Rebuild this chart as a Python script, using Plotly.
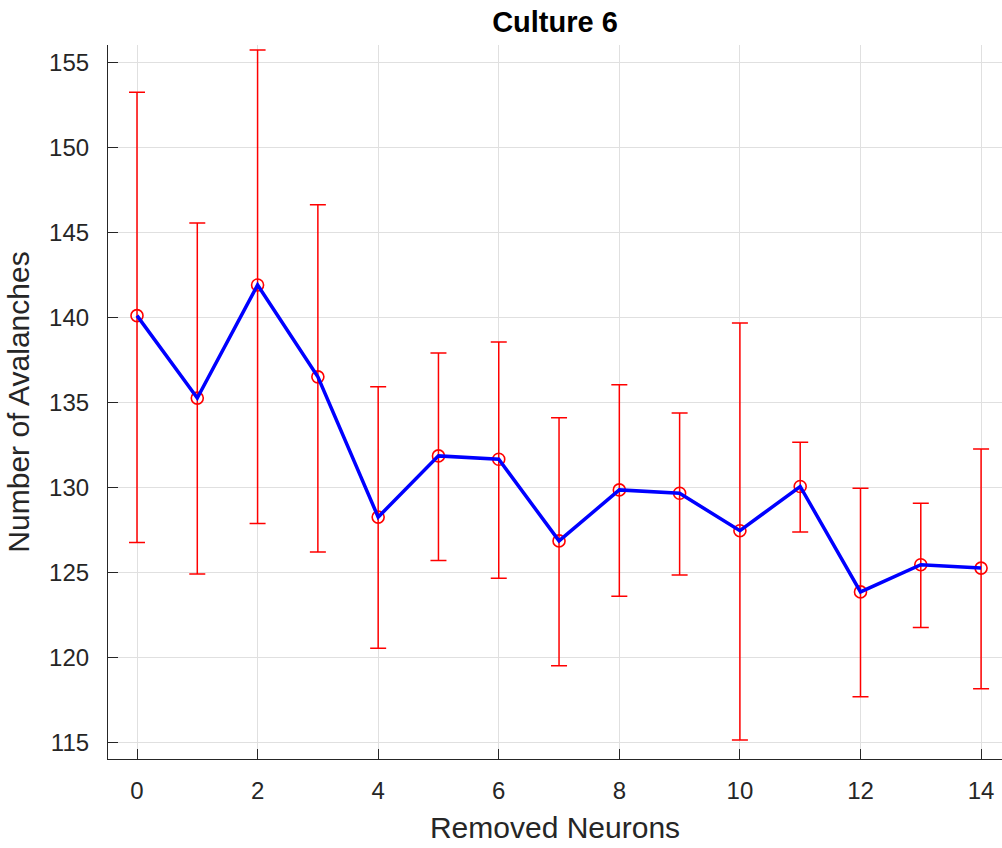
import plotly.graph_objects as go

removed = list(range(15))
means = [140.1, 135.25, 141.9, 136.5, 128.25, 131.85, 131.65, 126.85, 129.85, 129.65, 127.45, 130.05, 123.85, 125.45, 125.25]
upper = [153.24, 145.55, 155.72, 146.62, 135.92, 137.9, 138.55, 134.1, 136.04, 134.37, 139.66, 132.65, 129.94, 129.06, 132.25]
lower = [126.76, 124.9, 127.88, 126.2, 120.53, 125.7, 124.65, 119.5, 123.59, 124.84, 115.14, 127.37, 117.68, 121.76, 118.15]

err_plus = [u - m for u, m in zip(upper, means)]
err_minus = [m - l for m, l in zip(means, lower)]

FONT = "Liberation Sans, Arial, Helvetica, sans-serif"
AX = "#262626"

fig = go.Figure()
fig.add_trace(go.Scatter(
    x=removed, y=means, mode="markers",
    marker=dict(symbol="circle-open", size=12, color="red", line=dict(width=1.6, color="red")),
    error_y=dict(type="data", symmetric=False, array=err_plus, arrayminus=err_minus,
                 color="red", thickness=1.5, width=8),
    showlegend=False, hoverinfo="skip"))
fig.add_trace(go.Scatter(
    x=removed, y=means, mode="lines",
    line=dict(color="blue", width=3.5),
    showlegend=False))

fig.update_layout(
    width=1002, height=848,
    margin=dict(l=108, r=0, t=45, b=89),
    paper_bgcolor="white", plot_bgcolor="white",
    font=dict(family=FONT, color=AX),
    title=dict(text="<b>Culture 6</b>", x=(108 + 1002) / 2 / 1002, xanchor="center",
               y=1 - 22 / 848, yanchor="middle", yref="container",
               font=dict(family=FONT, size=29, color="black")),
)
fig.update_xaxes(
    range=[-0.481, 14.347], tickmode="array", tickvals=list(range(0, 15, 2)),
    showgrid=True, gridcolor="#e0e0e0", gridwidth=1, zeroline=False,
    showline=True, linecolor=AX, linewidth=1.2,
    ticks="inside", ticklen=10, tickcolor=AX, tickwidth=1.2,
    tickfont=dict(size=24, color=AX), ticklabelstandoff=10,
    title=dict(text="Removed Neurons", font=dict(size=30, color=AX), standoff=14),
)
fig.update_yaxes(
    range=[114.02, 156.02], tickmode="array", tickvals=list(range(115, 160, 5)),
    showgrid=True, gridcolor="#e0e0e0", gridwidth=1, zeroline=False,
    showline=True, linecolor=AX, linewidth=1.2,
    ticks="inside", ticklen=10, tickcolor=AX, tickwidth=1.2,
    tickfont=dict(size=24, color=AX), ticklabelstandoff=13,
    title=dict(text="Number of Avalanches", font=dict(size=30, color=AX), standoff=10),
)

fig.write_html("out.html")
